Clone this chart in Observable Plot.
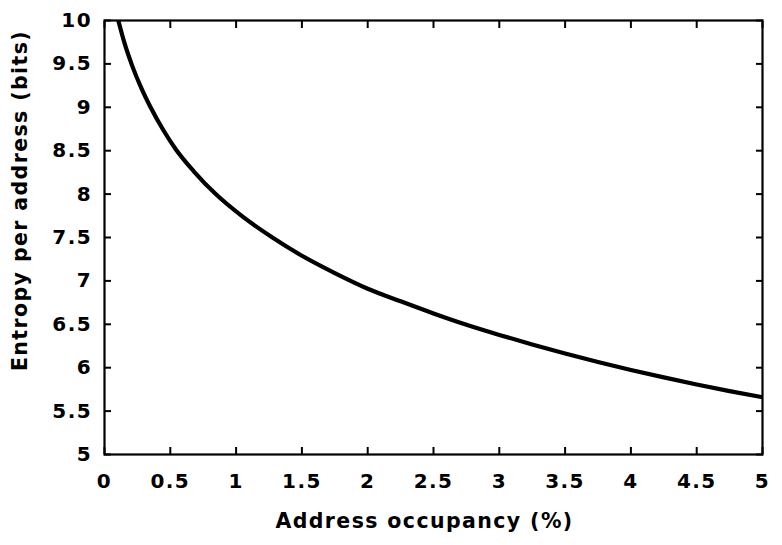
<!DOCTYPE html>
<html>
<head>
<meta charset="utf-8">
<script src="https://cdn.jsdelivr.net/npm/d3@7"></script>
<script src="https://cdn.jsdelivr.net/npm/@observablehq/plot@0.6"></script>
<style>
  html, body { margin: 0; padding: 0; background: #fff; }
  #chart svg { display: block; letter-spacing: 1.4px; }
</style>
</head>
<body>
<div id="chart"></div>
<script>
// Values
const occupancy = [0.105, 0.15, 0.21, 0.28, 0.35, 0.45, 0.54, 0.68, 0.845, 1.05, 1.276, 1.5, 1.75, 2.0, 2.25, 2.5, 2.75, 3.0, 3.25, 3.5, 3.75, 4.0, 4.25, 4.5, 4.75, 5.0];
const entropy   = [10.0, 9.75, 9.48, 9.22, 9.0, 8.73, 8.52, 8.26, 8.0, 7.74, 7.5, 7.29, 7.09, 6.91, 6.765, 6.625, 6.495, 6.378, 6.268, 6.164, 6.066, 5.974, 5.888, 5.806, 5.73, 5.66];
const xTicks = [0, 0.5, 1, 1.5, 2, 2.5, 3, 3.5, 4, 4.5, 5];
const yTicks = [5, 5.5, 6, 6.5, 7, 7.5, 8, 8.5, 9, 9.5, 10];
const xTitle = "Address occupancy (%)";
const yTitle = "Entropy per address (bits)";

const data = occupancy.map((x, i) => ({x, y: entropy[i]}));
const fmt = d => String(d);

const chart = Plot.plot({
  width: 782,
  height: 545,
  marginLeft: 104,
  marginRight: 20,
  marginTop: 20,
  marginBottom: 91,
  style: {fontFamily: "'DejaVu Sans', sans-serif", fontWeight: "bold", fontSize: "20px", color: "#000", background: "#fff"},
  x: {domain: [0, 5]},
  y: {domain: [5, 10]},
  marks: [
    Plot.line(data, {x: "x", y: "y", curve: "monotone-x", stroke: "#000", strokeWidth: 4.2, clip: true}),
    // tick labels
    Plot.axisX({anchor: "bottom", ticks: xTicks, tickFormat: fmt, tickSize: 0, tickPadding: 19, label: null, fontSize: 20}),
    Plot.axisY({anchor: "left", ticks: yTicks, tickFormat: fmt, tickSize: 0, tickPadding: 12.5, label: null, fontSize: 20}),
    // inward ticks on all four sides
    Plot.axisX({anchor: "bottom", ticks: xTicks, tickSize: -7, text: null, label: null, strokeWidth: 2}),
    Plot.axisX({anchor: "top", ticks: xTicks, tickSize: -7, text: null, label: null, strokeWidth: 2}),
    Plot.axisY({anchor: "left", ticks: yTicks, tickSize: -7, text: null, label: null, strokeWidth: 2}),
    Plot.axisY({anchor: "right", ticks: yTicks, tickSize: -7, text: null, label: null, strokeWidth: 2}),
    Plot.frame({stroke: "#000", strokeWidth: 2.2}),
    // axis titles
    Plot.text([xTitle], {text: d => d, frameAnchor: "bottom", textAnchor: "middle", dy: 67, dx: -9, fontSize: 20.5, fontWeight: "bold", lineAnchor: "middle"}),
    Plot.text([yTitle], {text: d => d, frameAnchor: "left", textAnchor: "middle", rotate: -90, dx: -84, dy: -37, fontSize: 20.5, fontWeight: "bold", lineAnchor: "middle"})
  ]
});
document.getElementById("chart").appendChild(chart);
</script>
</body>
</html>
